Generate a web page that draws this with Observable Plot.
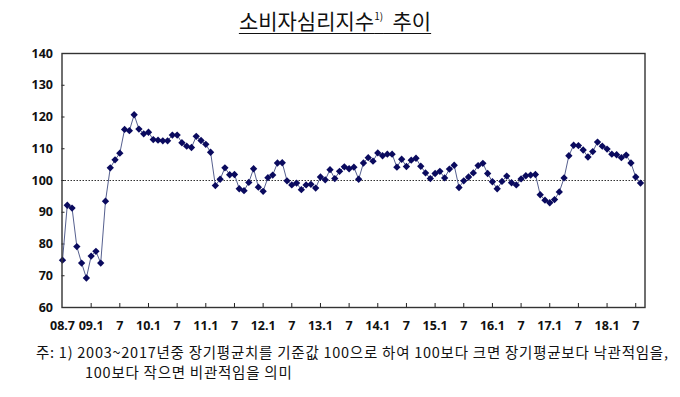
<!DOCTYPE html>
<html>
<head>
<meta charset="utf-8">
<script src="https://cdn.jsdelivr.net/npm/d3@7"></script>
<script src="https://cdn.jsdelivr.net/npm/@observablehq/plot@0.6"></script>
<style>
  html, body { margin: 0; padding: 0; background: #fff; }
  #wrap { width: 680px; position: relative; }
  #title { height: 40px; box-sizing: border-box; padding-top: 8px; text-align: center; padding-right: 10px;
    font-family: "Noto Sans CJK KR", sans-serif; font-size: 21px; line-height: 25px; color: #111; font-weight: 400; }
  #title span.t { text-decoration: underline; text-decoration-thickness: 1.2px; text-underline-offset: 4px; }
  #title sup { font-size: 10px; vertical-align: 9px; line-height: 0; }
  #note { font-family: "Noto Sans CJK KR", sans-serif; font-size: 14.5px; letter-spacing: 0.75px; line-height: 20px; color: #111; padding-left: 36px; padding-top: 5px; white-space: nowrap; }
  #note .l2 { padding-left: 49px; }
  svg { display: block; }
</style>
</head>
<body>
<div id="wrap">
  <div id="title"><span class="t">소비자심리지수<sup>1)</sup>&nbsp;&nbsp;추이</span></div>
  <div id="chart"></div>
  <div id="note">
    <div>주: 1) 2003~2017년중 장기평균치를 기준값 100으로 하여 100보다 크면 장기평균보다 낙관적임을,</div>
    <div class="l2">100보다 작으면 비관적임을 의미</div>
  </div>
</div>
<script>
// Monthly CCSI, 2008.7 .. 2018.8
const startMonth = "2008-07";
const values = [
  74.9, 92.2, 91.3, 79.2, 74.0, 69.3,            // 08.7-08.12
  76.2, 77.7, 74.0, 93.5, 104.0, 106.5, 108.6, 116.1, 115.7, 120.7, 116.2, 114.7, // 09
  115.2, 112.9, 112.7, 112.5, 112.5, 114.3, 114.3, 111.9, 110.8, 110.4, 113.9, 112.6, // 10
  111.4, 108.9, 98.4, 100.4, 104.0, 101.8, 101.9, 97.4, 96.8, 99.4, 103.7, 97.9, // 11
  96.6, 100.9, 101.7, 105.5, 105.6, 99.9, 98.6, 99.2, 97.1, 98.6, 98.8, 97.6, // 12
  101.1, 100.2, 103.4, 100.6, 102.9, 104.3, 103.7, 104.2, 100.4, 105.5, 107.2, 106.1, // 13
  108.7, 107.8, 108.3, 108.3, 104.2, 106.7, 104.4, 106.4, 107.0, 104.5, 102.4, 100.6, // 14
  102.2, 102.9, 100.8, 103.6, 104.8, 97.8, 99.9, 101.1, 102.4, 104.7, 105.4, 102.2, // 15
  99.6, 97.4, 99.7, 101.4, 99.3, 98.6, 100.5, 101.5, 101.7, 101.9, 95.5, 93.8, // 16
  93.0, 94.0, 96.4, 100.8, 107.8, 111.1, 111.0, 109.6, 107.4, 109.1, 112.1, 110.8, // 17
  109.9, 108.3, 108.1, 107.2, 108.0, 105.5, 101.1, 99.2 // 18.1-18.8
];
const tickMonths = [0, 6, 12, 18, 24, 30, 36, 42, 48, 54, 60, 66, 72, 78, 84, 90, 96, 102, 108, 114, 120];
const tickLabels = ["08.7", "09.1", "7", "10.1", "7", "11.1", "7", "12.1", "7", "13.1", "7",
                    "14.1", "7", "15.1", "7", "16.1", "7", "17.1", "7", "18.1", "7"];
const yTicks = [60, 70, 80, 90, 100, 110, 120, 130, 140];
const baseline = [100];

const data = values.map((v, i) => ({i, v}));
const labelOf = new Map(tickMonths.map((m, k) => [m, tickLabels[k]]));

const axisFont = {fontFamily: "'Noto Sans', sans-serif", fontWeight: "bold", fontSize: 12.5, fill: "#111"};

const chart = Plot.plot({
  width: 680,
  height: 297,
  marginTop: 13,
  marginBottom: 30,
  marginLeft: 61.5,
  marginRight: 35.5,
  style: {fontFamily: "'Noto Sans', sans-serif", background: "#fff", overflow: "visible"},
  x: {type: "linear", domain: [-0.105, 121.94], axis: null, label: null},
  y: {domain: [60, 140], axis: null, label: null},
  marks: [
    Plot.ruleY(baseline, {stroke: "#333", strokeWidth: 1.2, strokeDasharray: "1.5,1.5"}),
    Plot.axisX({ticks: tickMonths.slice(1), tickSize: -4, text: null, label: null, stroke: "#222"}),
    Plot.axisX({ticks: tickMonths, tickSize: 0, tickPadding: 14, label: null, tickFormat: d => labelOf.get(d), ...axisFont}),
    Plot.axisY({ticks: yTicks.slice(1, -1), tickSize: -3, text: null, label: null, stroke: "#222"}),
    Plot.axisY({ticks: yTicks, tickSize: 0, tickPadding: 9, label: null, ...axisFont}),
    Plot.line(data, {x: "i", y: "v", stroke: "#56608f", strokeWidth: 1}),
    Plot.dot(data, {x: "i", y: "v", symbol: "diamond2", r: 3.3, fill: "#0a0a5e", stroke: "none"}),
    Plot.frame({stroke: "#333", strokeWidth: 1.4})
  ]
});
document.getElementById("chart").appendChild(chart);
</script>
</body>
</html>
